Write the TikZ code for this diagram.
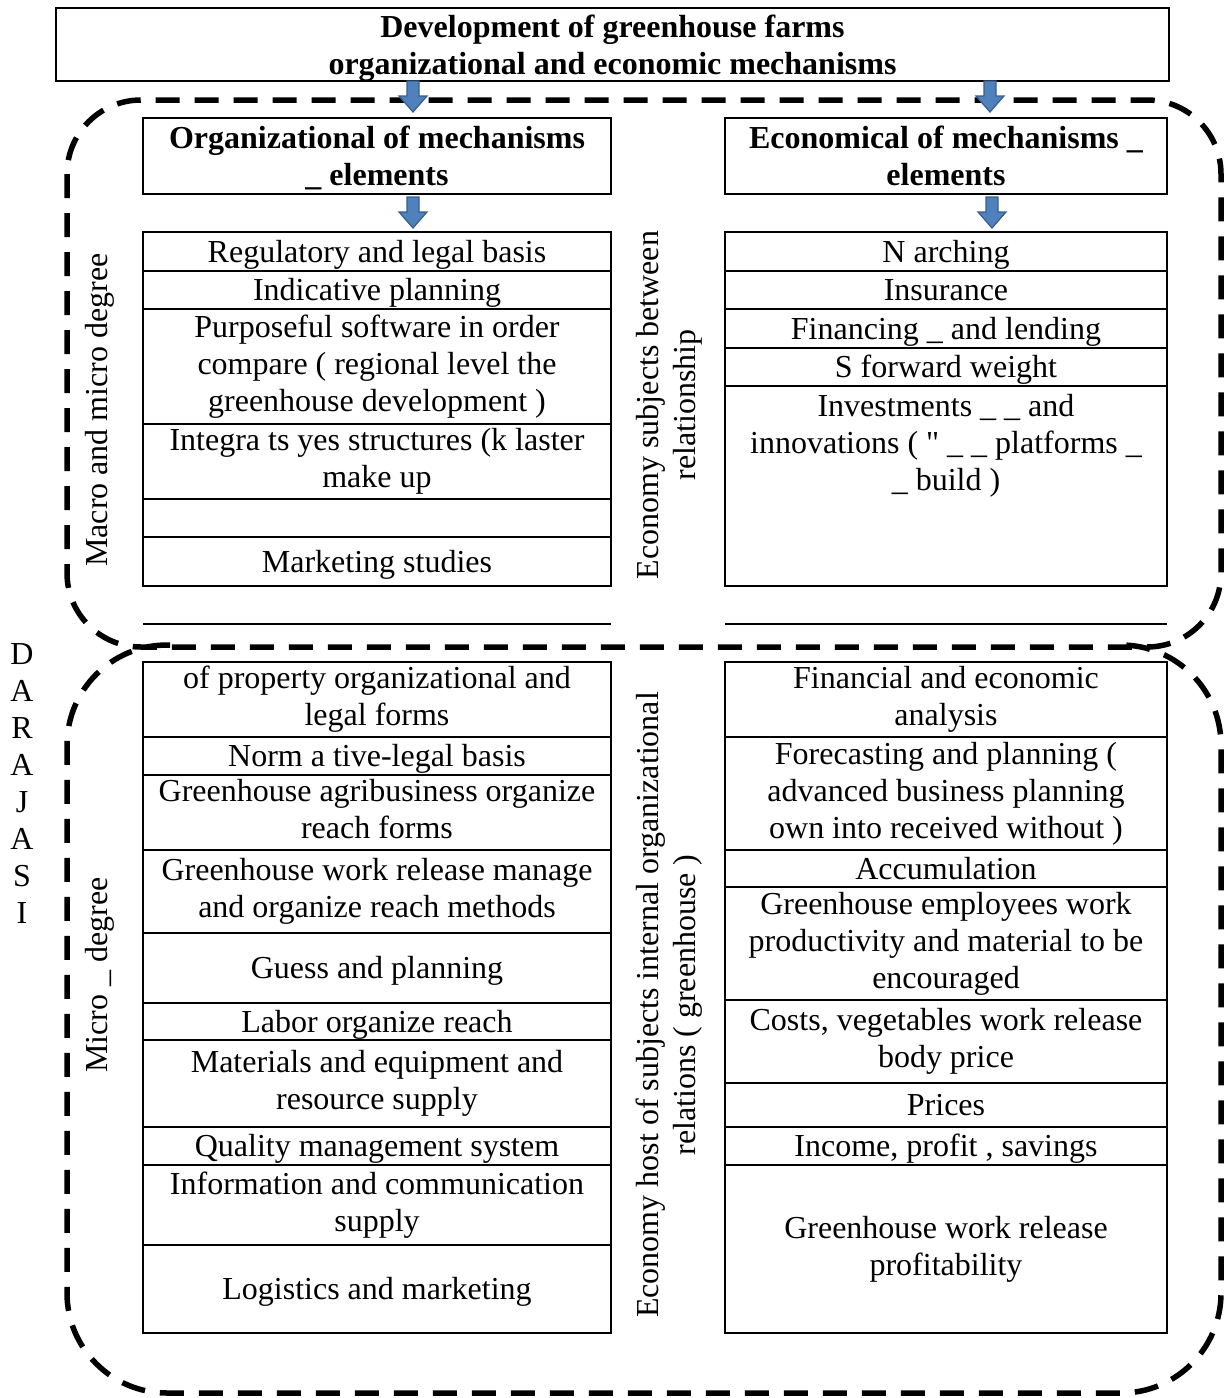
\documentclass[tikz,border=0pt]{standalone}
\usepackage{fontspec}
\setmainfont{Liberation Serif}[Ligatures=TeXOff]
\usetikzlibrary{positioning, calc}
\definecolor{arrowblue}{HTML}{4F81BD}
\definecolor{arrowedge}{HTML}{385D8A}
\newcommand\cellstrut{\rule[-7pt]{0pt}{35.5pt}}

\begin{document}
\begin{tikzpicture}[x=1pt, y=-1pt,
  txt/.style={font=\fontsize{32}{37}\selectfont},
  cell/.style={txt, draw, line width=2.5pt, align=center, inner sep=0pt, outer sep=0pt, anchor=north,
    execute at begin node=\cellstrut, execute at end node=\cellstrut},
  lcell/.style={cell, minimum width=468pt},
  rcell/.style={cell, minimum width=442pt},
  head/.style={cell, font=\fontsize{32}{37}\selectfont\bfseries, text height=59pt, text depth=-4pt},
  side/.style={txt, rotate=90, align=center, inner sep=0pt},
  bound/.style={dash pattern=on 24pt off 15pt, line width=5.5pt},
  downarrow/.pic={\draw[fill=arrowblue, draw=arrowedge, line width=1.2pt] (-6,0) -- (-6,15) -- (-14,15) -- (0,31) -- (14,15) -- (6,15) -- (6,0) -- cycle;}]
  \useasboundingbox (0,0) rectangle (1224,1398);

  % dashed groups
  \draw[bound, rounded corners=74pt] (67,100) rectangle (1221,647);
  \draw[bound, rounded corners=100pt] (170,645) -- (67,645) -- (67,1393) -- (1221,1393) -- (1221,645) -- (1120,645);

  \node[head, minimum width=1113pt, minimum height=73pt] (top) at (612.5,8) {Development of greenhouse farms\\organizational and economic mechanisms};
  \node[head, minimum width=468pt, minimum height=76pt] (orgL) at (377,118) {Organizational of mechanisms\\\_ elements};
  \node[head, minimum width=442pt, minimum height=76pt] (orgR) at (946,118) {Economical of mechanisms \_\\elements};

  \pic at ($(top.south -| orgL.south)+(36,0)$) {downarrow};
  \pic at ($(top.south -| orgR.south)+(44,0)$) {downarrow};
  \pic at ($(orgL.south)+(36,3)$) {downarrow};
  \pic at ($(orgR.south)+(46,3)$) {downarrow};

  % macro and micro degree
  \node[lcell, minimum height=39pt] (ol1) at (377,232) {Regulatory and legal basis};
  \node[lcell, minimum height=38pt, below=0pt of ol1] (ol2) {Indicative planning};
  \node[lcell, minimum height=115pt, below=0pt of ol2] (ol3) {Purposeful software in order\\compare ( regional level the\\greenhouse development )};
  \node[lcell, minimum height=75pt, below=0pt of ol3] (ol4) {Integra ts yes structures (k laster\\make up};
  \node[lcell, minimum height=38pt, below=0pt of ol4] (ol5) {};
  \node[lcell, minimum height=49pt, below=0pt of ol5] (ol6) {Marketing studies};

  \node[rcell, minimum height=39pt] (or1) at (946,232) {N arching};
  \node[rcell, minimum height=38pt, below=0pt of or1] (or2) {Insurance};
  \node[rcell, minimum height=39pt, below=0pt of or2] (or3) {Financing \_ and lending};
  \node[rcell, minimum height=38pt, below=0pt of or3] (or4) {S forward weight};
  \node[rcell, minimum height=200pt, below=0pt of or4,
    label={[txt, align=center, anchor=north, inner sep=8pt]north:{Investments \_ \_ and\\innovations ( " \_ \_ platforms \_\\\_ build )}}] (or5) {};

  \draw[line width=2.5pt] ([yshift=-38pt]ol6.south west) -- ([yshift=-38pt]ol6.south east);
  \draw[line width=2.5pt] ([yshift=-38pt]or5.south west) -- ([yshift=-38pt]or5.south east);

  % micro degree
  \node[lcell, minimum height=75pt] (ml1) at (377,662) {of property organizational and\\legal forms};
  \node[lcell, minimum height=38pt, below=0pt of ml1] (ml2) {Norm a tive-legal basis};
  \node[lcell, minimum height=75pt, below=0pt of ml2] (ml3) {Greenhouse agribusiness organize\\reach forms};
  \node[lcell, minimum height=83pt, below=0pt of ml3] (ml4) {Greenhouse work release manage\\and organize reach methods};
  \node[lcell, minimum height=70pt, below=0pt of ml4] (ml5) {Guess and planning};
  \node[lcell, minimum height=37pt, below=0pt of ml5] (ml6) {Labor organize reach};
  \node[lcell, minimum height=87pt, below=0pt of ml6] (ml7) {Materials and equipment and\\resource supply};
  \node[lcell, minimum height=38pt, below=0pt of ml7] (ml8) {Quality management system};
  \node[lcell, minimum height=80pt, below=0pt of ml8] (ml9) {Information and communication\\supply};
  \node[lcell, minimum height=88pt, below=0pt of ml9] (ml10) {Logistics and marketing};

  \node[rcell, minimum height=75pt] (mr1) at (946,662) {Financial and economic\\analysis};
  \node[rcell, minimum height=113pt, below=0pt of mr1] (mr2) {Forecasting and planning (\\advanced business planning\\own into received without )};
  \node[rcell, minimum height=37pt, below=0pt of mr2] (mr3) {Accumulation};
  \node[rcell, minimum height=113pt, below=0pt of mr3] (mr4) {Greenhouse employees work\\productivity and material to be\\encouraged};
  \node[rcell, minimum height=83pt, below=0pt of mr4] (mr5) {Costs, vegetables work release\\body price};
  \node[rcell, minimum height=44pt, below=0pt of mr5] (mr6) {Prices};
  \node[rcell, minimum height=38pt, below=0pt of mr6] (mr7) {Income, profit , savings};
  \node[rcell, minimum height=168pt, below=0pt of mr7] (mr8) {Greenhouse work release\\profitability};

  % side captions
  \node[side] (macro) at (100,410) {Macro and micro degree};
  \node[side] (between) at (669,405) {Economy subjects between\\relationship};
  \node[side] (micro) at (100,975) {Micro \_ degree};
  \node[side] (internal) at (669,1005) {Economy host of subjects internal organizational\\relations ( greenhouse )};
  \node[txt, align=center, inner sep=0pt] (level) at (22,784) {D\\A\\R\\A\\J\\A\\S\\I};
\end{tikzpicture}
\end{document}
